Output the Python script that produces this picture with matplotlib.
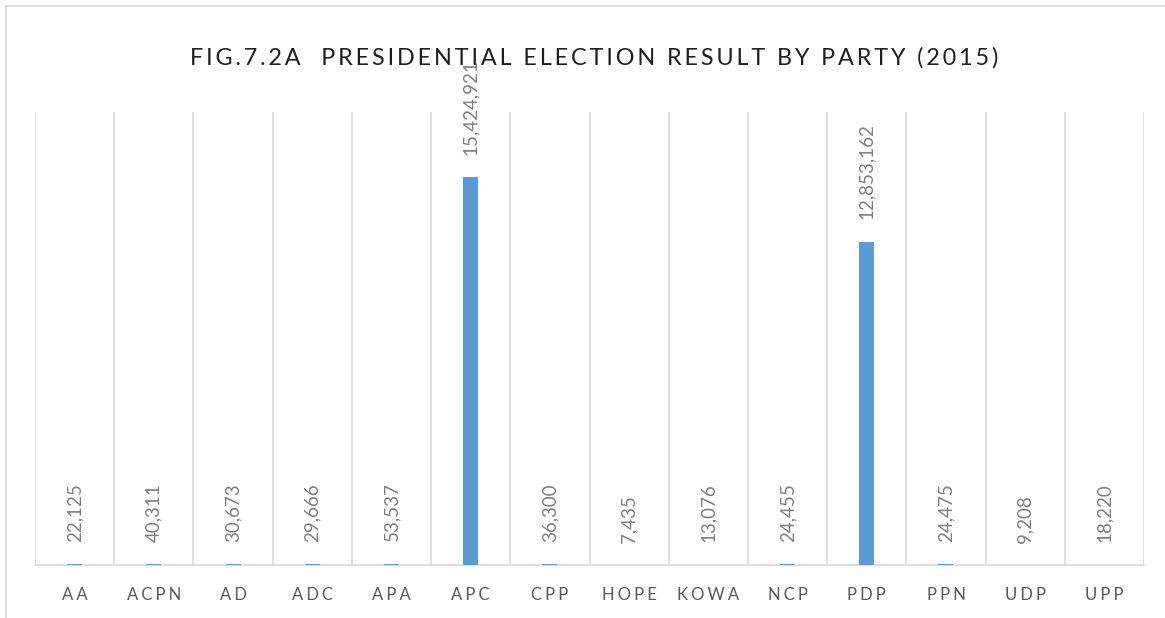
import matplotlib
matplotlib.use("Agg")
import matplotlib.pyplot as plt
from matplotlib.lines import Line2D

parties = ["AA", "ACPN", "AD", "ADC", "APA", "APC", "CPP", "HOPE", "KOWA", "NCP", "PDP", "PPN", "UDP", "UPP"]
votes = [22125, 40311, 30673, 29666, 53537, 15424921, 36300, 7435, 13076, 24455, 12853162, 24475, 9208, 18220]
title = "FIG.7.2A  PRESIDENTIAL ELECTION RESULT BY PARTY (2015)"

plt.rcParams['font.family'] = ['Lato', 'DejaVu Sans']

def spaced(s, sep='\u2009'):
    return sep.join(list(s))

W, H = 1165, 618
fig = plt.figure(figsize=(W / 100, H / 100), dpi=100)
ax = fig.add_axes([35 / W, 1 - 565 / H, (1144 - 35) / W, (565 - 112) / H])

x = list(range(len(parties)))
ax.bar(x, votes, width=0.19, color="#5B9BD5", zorder=3)
ax.set_xlim(-0.5, len(parties) - 0.5)
ax.set_ylim(0, 18000000)

for xi, v in zip(x, votes):
    ax.annotate(f"{v:,}", (xi, v), xytext=(0, 16), textcoords="offset points",
                rotation=90, ha="center", va="bottom", fontsize=13.5,
                color="#7F7F7F", zorder=4)

# vertical gridlines between categories
for b in range(len(parties) + 1):
    ax.axvline(b - 0.5, color="#D9D9D9", lw=1.2, zorder=1)

ax.set_xticks(x)
ax.set_xticklabels([spaced(p, '\u2009\u200a') for p in parties], fontsize=12, color="#595959")
ax.tick_params(axis="x", length=0, pad=16)
ax.set_yticks([])
for s in ["top", "right", "left"]:
    ax.spines[s].set_visible(False)
ax.spines["bottom"].set_color("#D9D9D9")
ax.spines["bottom"].set_linewidth(1.2)

fig.text(594 / W, 1 - 58 / H, spaced(title, '\u2009'), ha="center", va="center",
         fontsize=16.8, color="#1F1F1F")

# chart-area border (top and left visible in the crop)
fig.add_artist(Line2D([6 / W, 1], [1 - 6 / H, 1 - 6 / H], color="#D9D9D9", lw=1.2, transform=fig.transFigure))
fig.add_artist(Line2D([6 / W, 6 / W], [0, 1 - 6 / H], color="#D9D9D9", lw=1.2, transform=fig.transFigure))

fig.savefig("out.png", dpi=100, facecolor="white")
